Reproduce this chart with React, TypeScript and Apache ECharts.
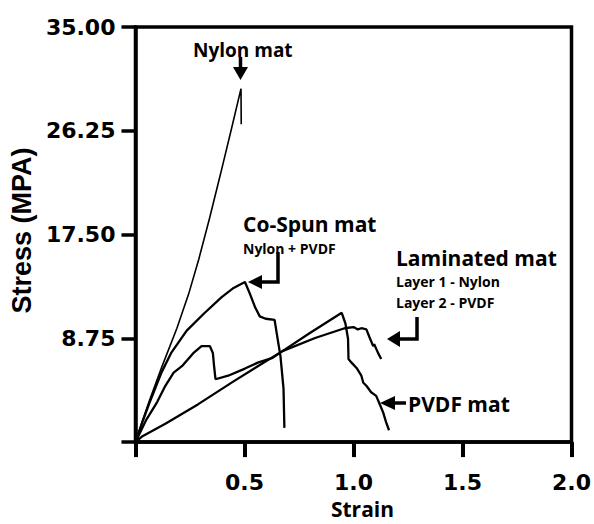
import React, { useEffect, useRef } from "react";
import * as echarts from "echarts";

// Strain (x) vs Stress in MPa (y)
const nylonMat: number[][] = [
  [0, 0], [0.03, 1.7], [0.062, 3.4], [0.12, 6.3], [0.19, 9.6], [0.244, 12.5],
  [0.29, 15.4], [0.34, 18.9], [0.39, 22.6], [0.44, 26.4], [0.484, 29.8], [0.485, 26.8],
];
const coSpunMat: number[][] = [
  [0, 0], [0.03, 1.6], [0.062, 3.2], [0.12, 5.9], [0.163, 7.5], [0.235, 9.4],
  [0.312, 10.8], [0.394, 12.2], [0.45, 13.0], [0.502, 13.5], [0.525, 12.5],
  [0.548, 11.4], [0.57, 10.6], [0.597, 10.4], [0.638, 10.3], [0.652, 8.7],
  [0.665, 7.25], [0.679, 4.5], [0.683, 1.2],
];
const laminatedMat: number[][] = [
  [0, 0], [0.05, 1.9], [0.1, 3.4], [0.137, 4.75], [0.175, 5.85], [0.213, 6.4],
  [0.265, 7.5], [0.303, 8.1], [0.341, 8.1], [0.355, 7.5], [0.36, 6.5],
  [0.367, 5.3], [0.425, 5.6], [0.502, 6.2], [0.561, 6.7], [0.629, 7.1],
  [0.674, 7.67], [0.824, 8.78], [0.959, 9.6], [1.0, 9.7], [1.02, 9.5],
  [1.036, 9.6], [1.059, 9.5], [1.072, 8.9], [1.09, 8.1], [1.095, 8.25],
  [1.113, 7.5], [1.127, 7.0],
];
const pvdfMat: number[][] = [
  [0, 0], [0.032, 0.5], [0.137, 1.55], [0.288, 3.2], [0.448, 5.1], [0.561, 6.4],
  [0.674, 7.67], [0.8, 9.2], [0.946, 10.9], [0.963, 10.0], [0.975, 8.7], [0.977, 7.0],
  [0.991, 6.7], [1.014, 6.25], [1.036, 5.6], [1.045, 5.0], [1.059, 4.75],
  [1.081, 4.2], [1.104, 3.9], [1.118, 3.3], [1.136, 2.5], [1.149, 1.7], [1.163, 1.0],
];

const seriesNames = ["Nylon mat", "Co-Spun mat", "Laminated mat", "PVDF mat"];
const yAxisMin = 0;
const yAxisMax = 35;
const yAxisStep = 8.75;
const xAxisMin = 0;
const xAxisMax = 2;
const xAxisStep = 0.5;

const ANN_FONT = '"Open Sans", Lato, sans-serif';
const TICK_FONT = '"DejaVu Sans", Verdana, sans-serif';

export default function App() {
  const ref = useRef<HTMLDivElement>(null);

  useEffect(() => {
    if (!ref.current) return;
    const chart = echarts.init(ref.current, null, { renderer: "svg" });

    const annText = (text: string, x: number, y: number, size: number) => ({
      type: "text",
      x,
      y,
      style: {
        text,
        fill: "#000",
        font: `bold ${size}px ${ANN_FONT}`,
        textAlign: "left",
        textVerticalAlign: "middle",
      },
    });
    const stroke = { stroke: "#000", lineWidth: 3.5, fill: "none" };
    const head = { fill: "#000" };

    chart.setOption({
      animation: false,
      backgroundColor: "#fff",
      grid: {
        left: 131,
        right: 21,
        top: 27,
        bottom: 77,
        show: true,
        borderColor: "#000",
        borderWidth: 3.5,
        backgroundColor: "transparent",
      },
      xAxis: {
        type: "value",
        min: xAxisMin,
        max: xAxisMax,
        interval: xAxisStep,
        name: "Strain",
        nameLocation: "middle",
        nameGap: 49,
        nameTextStyle: {
          fontFamily: ANN_FONT,
          fontWeight: "bold",
          fontSize: 21,
          color: "#000",
          padding: [0, 0, 0, 18],
        },
        axisLine: { show: true, lineStyle: { color: "#000", width: 3.5 } },
        axisTick: { show: true, length: 15, lineStyle: { color: "#000", width: 4 } },
        axisLabel: {
          margin: 29,
          color: "#000",
          fontFamily: TICK_FONT,
          fontWeight: "bold",
          fontSize: 22,
          formatter: (v: number) => (v === 0 ? "" : v.toFixed(1)),
        },
        splitLine: { show: false },
      },
      yAxis: {
        type: "value",
        min: yAxisMin,
        max: yAxisMax,
        interval: yAxisStep,
        name: "Stress (MPA)",
        nameLocation: "middle",
        nameGap: 86,
        nameTextStyle: {
          fontFamily: '"Liberation Sans", Arial, sans-serif',
          fontWeight: "bold",
          fontSize: 27,
          color: "#000",
          padding: [0, 0, 0, 8],
        },
        axisLine: { show: true, lineStyle: { color: "#000", width: 3.5 } },
        axisTick: { show: true, length: 14, lineStyle: { color: "#000", width: 3.5 } },
        axisLabel: {
          margin: 20,
          color: "#000",
          fontFamily: TICK_FONT,
          fontWeight: "bold",
          fontSize: 22,
          formatter: (v: number) => (v === 0 ? "" : v.toFixed(2)),
        },
        splitLine: { show: false },
      },
      series: [
        { name: seriesNames[0], type: "line", data: nylonMat, showSymbol: false, symbol: "none",
          lineStyle: { color: "#000", width: 1.6 }, z: 3 },
        { name: seriesNames[1], type: "line", data: coSpunMat, showSymbol: false, symbol: "none",
          lineStyle: { color: "#000", width: 2.3 }, z: 3 },
        { name: seriesNames[2], type: "line", data: laminatedMat, showSymbol: false, symbol: "none",
          lineStyle: { color: "#000", width: 2.3 }, z: 3 },
        { name: seriesNames[3], type: "line", data: pvdfMat, showSymbol: false, symbol: "none",
          lineStyle: { color: "#000", width: 2.3 }, z: 3 },
      ],
      graphic: [
        annText("Nylon mat", 193, 50, 19),
        { type: "line", shape: { x1: 240.5, y1: 57, x2: 240.5, y2: 70 }, style: stroke },
        { type: "polygon", shape: { points: [[233, 67], [248, 67], [240.5, 80]] }, style: head },

        annText("Co-Spun mat", 243, 224, 21),
        annText("Nylon + PVDF", 243, 248, 14),
        { type: "polyline", shape: { points: [[278, 252], [278, 282], [260, 282]] }, style: stroke },
        { type: "polygon", shape: { points: [[262, 275], [262, 289], [248, 282]] }, style: head },

        annText("Laminated mat", 396, 258, 21),
        annText("Layer 1 - Nylon", 396, 281, 14),
        annText("Layer 2 - PVDF", 396, 302, 14),
        { type: "polyline", shape: { points: [[417, 317], [417, 339], [398, 339]] }, style: stroke },
        { type: "polygon", shape: { points: [[400, 331], [400, 347], [387, 339]] }, style: head },

        annText("PVDF mat", 408, 404, 21),
        { type: "line", shape: { x1: 393, y1: 403, x2: 406, y2: 403 }, style: stroke },
        { type: "polygon", shape: { points: [[395, 396], [395, 410], [380, 403]] }, style: head },
      ],
    });

    return () => chart.dispose();
  }, []);

  return (
    <div
      ref={ref}
      style={{ position: "fixed", left: 0, top: 0, width: 594, height: 524, background: "#fff" }}
    />
  );
}
